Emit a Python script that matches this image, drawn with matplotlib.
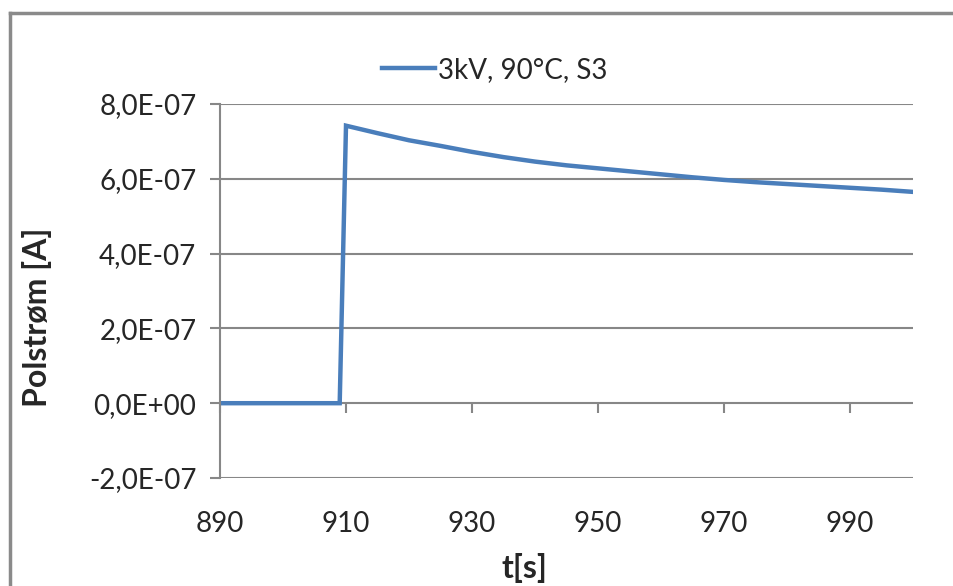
import numpy as np
import matplotlib.pyplot as plt
from matplotlib.lines import Line2D
from matplotlib.ticker import FuncFormatter

#%% Datos
t = [890, 909, 910, 915, 920, 925, 930, 935, 940, 945, 950, 955, 960,
     965, 970, 975, 980, 985, 990, 995, 1000]
polstrom = [0.0, 0.0, 7.42e-7, 7.22e-7, 7.03e-7, 6.88e-7, 6.72e-7, 6.58e-7,
            6.46e-7, 6.36e-7, 6.28e-7, 6.20e-7, 6.12e-7, 6.04e-7, 5.97e-7,
            5.91e-7, 5.86e-7, 5.81e-7, 5.76e-7, 5.71e-7, 5.65e-7]
label = "3kV, 90°C, S3"
xticks = [890, 910, 930, 950, 970, 990]
yticks = [-2e-7, 0, 2e-7, 4e-7, 6e-7, 8e-7]

#%% Estilo
plt.rcParams['font.family'] = ['Lato', 'DejaVu Sans']
fontsize = 20
lineColor = "#4A7EBB"
gridColor = "#878787"
textColor = "#262626"

fig = plt.figure(figsize=(9.54, 5.86), dpi=100)
ax = fig.add_axes([220/954, 1-478/586, (913-220)/954, (478-104)/586])

ax.plot(t, polstrom, color=lineColor, linewidth=3.2, label=label,
        solid_joinstyle='miter')

ax.set_xlim(890, 1000)
ax.set_ylim(-2e-7, 8e-7)
ax.set_xticks(xticks)
ax.set_yticks(yticks)
ax.yaxis.set_major_formatter(FuncFormatter(
    lambda v, p: ("%.1E" % v).replace(".", ",").replace("-0,0", "0,0")))
ax.tick_params(axis='y', direction='out', length=7, width=1.5, color=gridColor,
               labelsize=fontsize, labelcolor=textColor, pad=10)
ax.tick_params(axis='x', length=0, labelsize=fontsize, labelcolor=textColor, pad=24)
ax.grid(axis='y', color=gridColor, linewidth=1.5)
ax.set_axisbelow(True)
for s in ['top', 'right', 'bottom']:
    ax.spines[s].set_visible(False)
ax.spines['left'].set_color(gridColor)
ax.spines['left'].set_linewidth(1.5)

# eje x cruzando en cero (como en Excel)
sec = ax.secondary_xaxis(0.2)
sec.set_xticks(xticks)
sec.tick_params(direction='out', length=7, width=1.5, color=gridColor, labelbottom=False)
sec.spines['bottom'].set_visible(False)

ax.set_ylabel("Polstrøm [A]", fontsize=23, fontweight='bold', color=textColor)
ax.yaxis.set_label_coords(-0.243, 0.43)
ax.set_xlabel("t[s]", fontsize=23, fontweight='bold', color=textColor)
ax.xaxis.set_label_coords(0.44, -0.2)

leg = ax.legend(loc='lower center', bbox_to_anchor=(0.396, 1.02), frameon=False,
                fontsize=fontsize, handlelength=1.9, handletextpad=0.1, borderaxespad=0.1)
for txt in leg.get_texts():
    txt.set_color(textColor)

# marco de la figura
fig.add_artist(Line2D([10/954, 1.0], [1-13/586, 1-13/586], transform=fig.transFigure,
                      color="#8a8a8a", linewidth=2.5))
fig.add_artist(Line2D([10/954, 10/954], [0, 1-13/586], transform=fig.transFigure,
                      color="#8a8a8a", linewidth=2.5))

fig.savefig("out.png", dpi=100)
